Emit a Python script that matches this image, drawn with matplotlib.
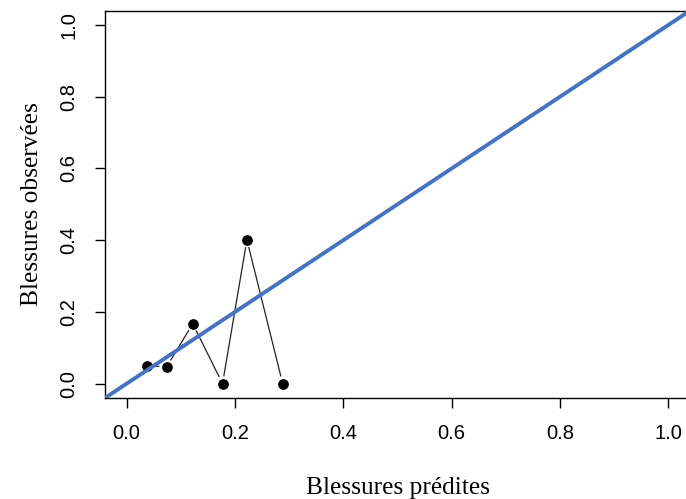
import numpy as np
import matplotlib
matplotlib.use("Agg")
import matplotlib.pyplot as plt

# predicted vs observed injury rates
predites = [0.037, 0.074, 0.122, 0.177, 0.222, 0.288]
observees = [0.050, 0.047, 0.167, 0.0, 0.401, 0.0]
ticks = [0.0, 0.2, 0.4, 0.6, 0.8, 1.0]

fig = plt.figure(figsize=(6.86, 4.99), dpi=100)
ax = fig.add_axes([0.153, 0.2024, 0.853, 0.7764])
ax.set_xlim(-0.04, 1.04)
ax.set_ylim(-0.04, 1.04)

# R style type="b": segments with a gap around each point
fig.canvas.draw()
pts = ax.transData.transform(np.column_stack([predites, observees]))
gap = 8.0
inv = ax.transData.inverted()
for i in range(len(pts) - 1):
    p0, p1 = pts[i], pts[i + 1]
    d = p1 - p0
    L = np.hypot(*d)
    if L <= 2 * gap + 4:
        continue
    u = d / L
    a = inv.transform(p0 + u * gap)
    b = inv.transform(p1 - u * gap)
    ax.plot([a[0], b[0]], [a[1], b[1]], color="#222222", lw=0.9, zorder=2)

ax.scatter(predites, observees, s=45, color="black", zorder=3)
ax.axline((0, 0), slope=1, color="#4472C4", lw=2.8, zorder=4)

ax.set_xticks(ticks)
ax.set_yticks(ticks)
ax.set_xticklabels([f"{t:.1f}" for t in ticks], family="Liberation Sans", fontsize=14.5)
ax.set_yticklabels([f"{t:.1f}" for t in ticks], family="Liberation Sans", fontsize=14.5,
                   rotation=90, va="center")
ax.tick_params(direction="out", length=7, width=1, pad=12)
for s in ax.spines.values():
    s.set_linewidth(1)

ax.set_xlabel("Blessures prédites", family="Liberation Serif", fontsize=18.3, labelpad=24)
ax.set_ylabel("Blessures observées", family="Liberation Serif", fontsize=18.3, labelpad=12)

fig.savefig("out.png", dpi=100)
